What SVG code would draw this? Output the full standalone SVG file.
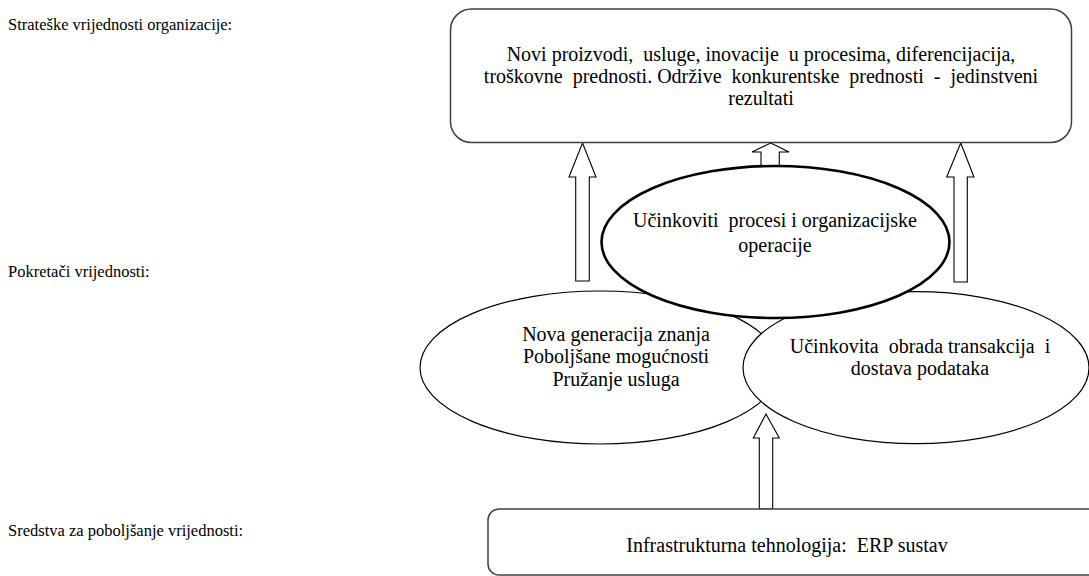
<svg xmlns="http://www.w3.org/2000/svg" width="1089" height="576" viewBox="0 0 1089 576">
<style>
.t{font-size:20px;text-anchor:middle}
.lbl{font-size:16.5px}
.box{fill:#fff;stroke:#404040;stroke-width:1.5}
.ell{fill:#fff;stroke:#000;stroke-width:1.2}
.ellb{fill:#fff;stroke:#000;stroke-width:2.6}
.arr{fill:#fff;stroke:#000;stroke-width:1.1;stroke-linejoin:miter}
</style>
<rect width="1089" height="576" fill="#fff"/>
<g id="labels">
<text class="lbl" font-family="Liberation Serif" x="8" y="30">Strateške vrijednosti organizacije:</text>
<text class="lbl" font-family="Liberation Serif" x="8" y="277">Pokretači vrijednosti:</text>
<text class="lbl" font-family="Liberation Serif" x="8" y="536">Sredstva za poboljšanje vrijednosti:</text>
</g>
<g id="connectors">
<polygon class="arr" points="582.5,143 596,177 589.3,177 589.3,281 575.7,281 575.7,177 569,177"/>
<polygon class="arr" points="960.7,143 974,177 967.3,177 967.3,282 954,282 954,177 946.7,177"/>
<polygon class="arr" points="770.7,143 789,152 779.3,152 779.3,178 761,178 761,152 752,152"/>
<polygon class="arr" points="766,414 779.3,438 772.7,438 772.7,509 759.3,509 759.3,438 753.3,438"/>
</g>
<g id="node-strategic">
<rect class="box" x="450.5" y="9" width="621" height="133.5" rx="21"/>
<text class="t" font-family="Liberation Serif" x="761" y="61" xml:space="preserve">Novi proizvodi,  usluge, inovacije  u procesima, diferencijacija,</text>
<text class="t" font-family="Liberation Serif" x="761" y="83" xml:space="preserve">troškovne  prednosti. Održive  konkurentske  prednosti  -  jedinstveni</text>
<text class="t" font-family="Liberation Serif" x="761" y="105">rezultati</text>
</g>
<g id="node-knowledge">
<ellipse class="ell" cx="600" cy="367.5" rx="180" ry="76.5"/>
<text class="t" font-family="Liberation Serif" x="616" y="341">Nova generacija znanja</text>
<text class="t" font-family="Liberation Serif" x="616" y="363">Poboljšane mogućnosti</text>
<text class="t" font-family="Liberation Serif" x="616" y="386">Pružanje usluga</text>
</g>
<g id="node-transactions">
<ellipse class="ell" cx="916" cy="367.7" rx="173" ry="76"/>
<text class="t" font-family="Liberation Serif" x="920" y="353" xml:space="preserve">Učinkovita  obrada transakcija  i</text>
<text class="t" font-family="Liberation Serif" x="920" y="375">dostava podataka</text>
</g>
<g id="node-processes">
<ellipse class="ellb" cx="775.5" cy="242" rx="174" ry="76"/>
<text class="t" font-family="Liberation Serif" x="775" y="227" xml:space="preserve">Učinkoviti  procesi i organizacijske</text>
<text class="t" font-family="Liberation Serif" x="775" y="252">operacije</text>
</g>
<g id="node-infrastructure">
<rect class="box" x="488" y="509" width="612" height="66" rx="11"/>
<text class="t" font-family="Liberation Serif" x="787" y="552" xml:space="preserve">Infrastrukturna tehnologija:  ERP sustav</text>
</g>
</svg>
